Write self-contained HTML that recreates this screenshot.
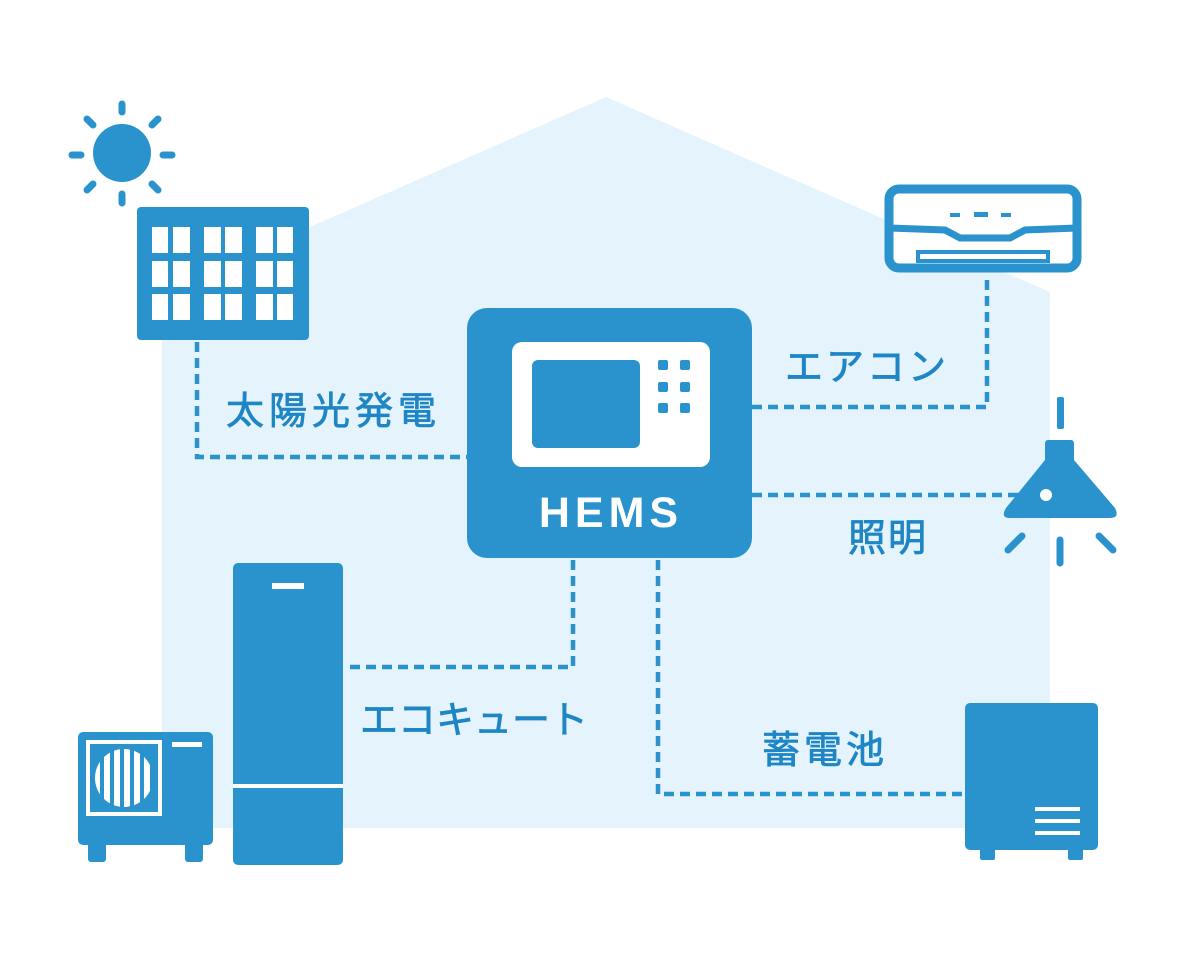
<!DOCTYPE html>
<html><head><meta charset="utf-8"><style>
html,body{margin:0;padding:0;background:#fff;}
svg{display:block}
text{font-family:"Liberation Sans","Noto Sans CJK JP",sans-serif;}
</style></head><body>
<svg width="1200" height="970" viewBox="0 0 1200 970" xmlns="http://www.w3.org/2000/svg">
<polygon points="606,97 1050,292 1050,828 162,828 162,292" fill="#e5f3fc"/>
<g fill="#2a93cd" stroke="none">
<circle cx="122" cy="153" r="29"/>
<g stroke="#2a93cd" stroke-width="7" stroke-linecap="round">
<line x1="122" y1="104" x2="122" y2="112"/>
<line x1="122" y1="194" x2="122" y2="203"/>
<line x1="72" y1="155" x2="81" y2="155"/>
<line x1="163" y1="155" x2="172" y2="155"/>
<line x1="87" y1="119" x2="93" y2="125"/>
<line x1="152" y1="125" x2="158" y2="119"/>
<line x1="87" y1="190" x2="93" y2="184"/>
<line x1="152" y1="184" x2="158" y2="190"/>
</g>
<rect x="137" y="207" width="172" height="133" rx="4"/>
</g>
<g fill="#fff">
<rect x="152" y="227" width="16" height="26"/><rect x="173" y="227" width="17" height="26"/><rect x="204" y="227" width="17" height="26"/><rect x="225" y="227" width="17" height="26"/><rect x="256" y="227" width="17" height="26"/><rect x="277" y="227" width="16" height="26"/>
<rect x="152" y="261" width="16" height="26"/><rect x="173" y="261" width="17" height="26"/><rect x="204" y="261" width="17" height="26"/><rect x="225" y="261" width="17" height="26"/><rect x="256" y="261" width="17" height="26"/><rect x="277" y="261" width="16" height="26"/>
<rect x="152" y="294" width="16" height="26"/><rect x="173" y="294" width="17" height="26"/><rect x="204" y="294" width="17" height="26"/><rect x="225" y="294" width="17" height="26"/><rect x="256" y="294" width="17" height="26"/><rect x="277" y="294" width="16" height="26"/>
</g>
<g fill="none" stroke="#2a93cd" stroke-width="4.5" stroke-dasharray="10 6">
<polyline points="197,342 197,457 467,457"/>
<polyline points="752,407 987,407 987,278"/>
<polyline points="752,495 1030,495"/>
<polyline points="573,560 573,667 345,667"/>
<polyline points="658,560 658,794 965,794"/>
</g>
<rect x="467" y="308" width="285" height="250" rx="20" fill="#2a93cd"/>
<rect x="512" y="342" width="198" height="125" rx="10" fill="#fff"/>
<rect x="532" y="360" width="108" height="88" rx="6" fill="#2a93cd"/>
<g fill="#2a93cd">
<rect x="658" y="360" width="10" height="10" rx="2"/><rect x="680" y="360" width="10" height="10" rx="2"/>
<rect x="658" y="382" width="10" height="10" rx="2"/><rect x="680" y="382" width="10" height="10" rx="2"/>
<rect x="658" y="403" width="10" height="10" rx="2"/><rect x="680" y="403" width="10" height="10" rx="2"/>
</g>
<text x="611" y="527" text-anchor="middle" font-size="43" font-weight="bold" fill="#fff" letter-spacing="5">HEMS</text>
<rect x="889" y="189" width="188" height="79" rx="10" fill="#fff" stroke="#2a93cd" stroke-width="9"/>
<path d="M889,228 L945,230 L960,238 L1010,238 L1025,230 L1077,228" fill="none" stroke="#2a93cd" stroke-width="7"/>
<rect x="918" y="252" width="130" height="9" fill="none" stroke="#2a93cd" stroke-width="4"/>
<g fill="#2a93cd"><rect x="950" y="213" width="10" height="4"/><rect x="974" y="212" width="14" height="5"/><rect x="1001" y="213" width="10" height="4"/></g>
<g fill="#2a93cd">
<rect x="1057" y="397" width="7" height="32" rx="2"/>
<path d="M1048,440 L1071,440 Q1074,440 1074,444 L1074,460 L1115,508 Q1120,518 1110,518 L1010,518 Q1000,518 1006,508 L1045,460 L1045,444 Q1045,440 1048,440 Z"/>
</g>
<circle cx="1046" cy="495" r="6" fill="#fff"/>
<g stroke="#2a93cd" stroke-width="7" stroke-linecap="round">
<line x1="1022" y1="536" x2="1008" y2="550"/>
<line x1="1060" y1="540" x2="1060" y2="563"/>
<line x1="1099" y1="536" x2="1113" y2="550"/>
</g>
<g fill="#2a93cd">
<rect x="78" y="732" width="135" height="113" rx="5"/>
<rect x="88" y="840" width="18" height="22" rx="3"/>
<rect x="185" y="840" width="18" height="22" rx="3"/>
</g>
<rect x="88" y="742" width="72" height="72" fill="none" stroke="#fff" stroke-width="4"/>
<clipPath id="fan"><circle cx="124" cy="778" r="29"/></clipPath>
<g clip-path="url(#fan)" fill="#fff">
<rect x="94" y="745" width="6" height="66"/><rect x="104" y="745" width="6" height="66"/><rect x="114" y="745" width="6" height="66"/><rect x="124" y="745" width="6" height="66"/><rect x="134" y="745" width="6" height="66"/><rect x="144" y="745" width="6" height="66"/>
</g>
<rect x="172" y="742" width="30" height="5" fill="#fff"/>
<rect x="233" y="563" width="110" height="302" rx="5" fill="#2a93cd"/>
<rect x="233" y="784" width="110" height="4" fill="#fff"/>
<rect x="272" y="583" width="32" height="6" fill="#fff"/>
<g fill="#2a93cd">
<rect x="965" y="703" width="133" height="147" rx="5"/>
<rect x="980" y="845" width="15" height="15" rx="2"/>
<rect x="1068" y="845" width="15" height="15" rx="2"/>
</g>
<g fill="#fff"><rect x="1035" y="807" width="45" height="4"/><rect x="1035" y="819" width="45" height="4"/><rect x="1035" y="831" width="45" height="4"/></g>
<g fill="#1f86c6" font-size="38" stroke="#1f86c6" stroke-width="0.8">
<text x="226" y="424" letter-spacing="5">太陽光発電</text>
<text x="785" y="380" letter-spacing="3">エアコン</text>
<text x="848" y="551" letter-spacing="2">照明</text>
<text x="360" y="733">エコキュート</text>
<text x="762" y="763" letter-spacing="4">蓄電池</text>
</g>
</svg>
</body></html>
